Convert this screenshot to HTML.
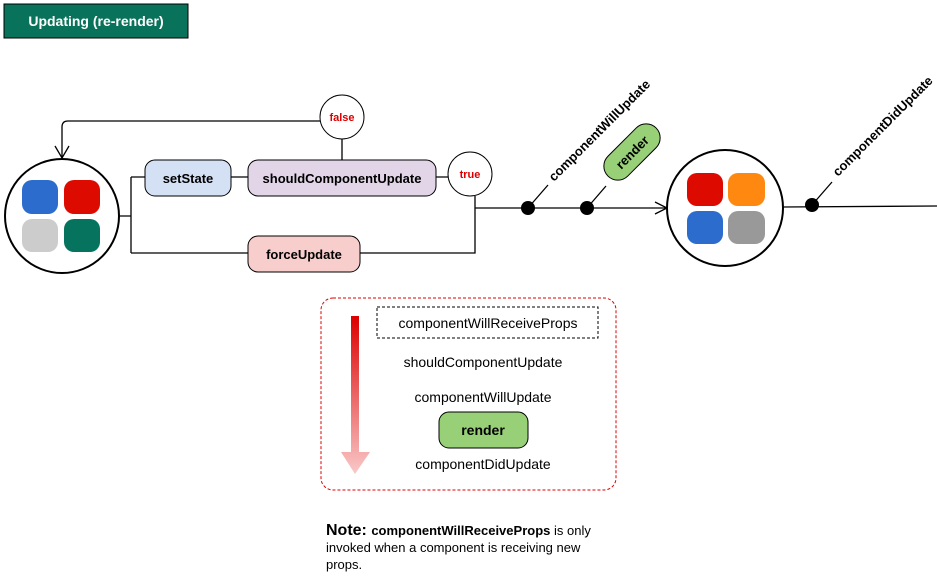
<!DOCTYPE html>
<html><head><meta charset="utf-8"><style>
html,body{margin:0;padding:0;background:#fff;}
svg{display:block;font-family:"Liberation Sans",Arial,sans-serif;}
</style></head><body>
<svg width="937" height="583" viewBox="0 0 937 583" xmlns="http://www.w3.org/2000/svg">
<defs>
<linearGradient id="g" x1="0" y1="0" x2="0" y2="1">
<stop offset="0" stop-color="#dd0000"/><stop offset="1" stop-color="#f9c8c8"/>
</linearGradient>
</defs>
<rect x="4" y="4" width="184" height="34" fill="#08735a" stroke="#000" stroke-width="1"/>
<text x="96" y="26" font-size="14" font-weight="bold" fill="#fff" text-anchor="middle">Updating (re-render)</text>

<g fill="none" stroke="#000" stroke-width="1.3">
<path d="M320,121 H68 Q62,121 62,127 V158"/>
<path d="M55,146 L62,158 L69,146"/>
<path d="M119,216 H131 M131,177 V253 M131,177 H145 M231,177 H248 M436,177 H448 M342,139 V160 M131,253 H248 M360,253 H475 V196 M475,208 H667"/>
<path d="M655,202 L667,208 L655,214"/>
<path d="M783,207 L937,206"/>
<path d="M528,208 L548,185 M587,208 L606,186 M812,205 L832,182"/>
</g>

<circle cx="62" cy="216" r="57" fill="#fff" stroke="#000" stroke-width="2"/>
<rect x="22" y="180" width="36" height="34" rx="10" fill="#2b6ccc"/>
<rect x="64" y="180" width="36" height="34" rx="10" fill="#dd0a00"/>
<rect x="22" y="219" width="36" height="33" rx="10" fill="#cccccc"/>
<rect x="64" y="219" width="36" height="33" rx="10" fill="#05735d"/>

<rect x="145" y="160" width="86" height="36" rx="10" fill="#d4e1f5" stroke="#000"/>
<text x="188" y="183" font-size="13" font-weight="bold" text-anchor="middle">setState</text>
<rect x="248" y="160" width="188" height="36" rx="10" fill="#e1d5e7" stroke="#000"/>
<text x="342" y="183" font-size="13" font-weight="bold" text-anchor="middle">shouldComponentUpdate</text>
<rect x="248" y="236" width="112" height="36" rx="10" fill="#f8cecc" stroke="#000"/>
<text x="304" y="259" font-size="13" font-weight="bold" text-anchor="middle">forceUpdate</text>

<circle cx="342" cy="117" r="22" fill="#fff" stroke="#000"/>
<text x="342" y="121" font-size="11" font-weight="bold" fill="#dd0000" text-anchor="middle">false</text>
<circle cx="470" cy="174" r="22" fill="#fff" stroke="#000"/>
<text x="470" y="178" font-size="11" font-weight="bold" fill="#dd0000" text-anchor="middle">true</text>

<circle cx="528" cy="208" r="7" fill="#000"/>
<circle cx="587" cy="208" r="7" fill="#000"/>
<circle cx="812" cy="205" r="7" fill="#000"/>

<text transform="translate(554,182) rotate(-45)" font-size="13" font-weight="bold">componentWillUpdate</text>
<text transform="translate(838,177) rotate(-45)" font-size="13" font-weight="bold">componentDidUpdate</text>
<g transform="translate(632,152) rotate(-45)">
<rect x="-34" y="-14" width="68" height="28" rx="14" fill="#97d077" stroke="#000"/>
<text x="0" y="5" font-size="13" font-weight="bold" text-anchor="middle">render</text>
</g>

<circle cx="725" cy="208" r="58" fill="#fff" stroke="#000" stroke-width="2"/>
<rect x="687" y="173" width="36" height="33" rx="10" fill="#dd0a00"/>
<rect x="728" y="173" width="37" height="33" rx="10" fill="#ff8811"/>
<rect x="687" y="211" width="36" height="33" rx="10" fill="#2b6ccc"/>
<rect x="728" y="211" width="37" height="33" rx="10" fill="#999999"/>

<rect x="321" y="298" width="295" height="192" rx="12" fill="none" stroke="#dd0000" stroke-dasharray="3,2"/>
<path d="M351,316 H359 V452 H370 L355,474 L341,452 H351 Z" fill="url(#g)"/>
<rect x="377" y="307" width="221" height="31" fill="none" stroke="#000" stroke-dasharray="3,2"/>
<text x="488" y="328" font-size="14" text-anchor="middle">componentWillReceiveProps</text>
<text x="483" y="367" font-size="14" text-anchor="middle">shouldComponentUpdate</text>
<text x="483" y="402" font-size="14" text-anchor="middle">componentWillUpdate</text>
<rect x="439" y="412" width="89" height="36" rx="10" fill="#97d077" stroke="#000"/>
<text x="483" y="435" font-size="14" font-weight="bold" text-anchor="middle">render</text>
<text x="483" y="469" font-size="14" text-anchor="middle">componentDidUpdate</text>

<text x="326" y="535" font-size="13"><tspan font-size="16" font-weight="bold">Note: </tspan><tspan font-weight="bold">componentWillReceiveProps</tspan> is only</text>
<text x="326" y="552" font-size="13">invoked when a component is receiving new</text>
<text x="326" y="569" font-size="13">props.</text>
</svg>
</body></html>
